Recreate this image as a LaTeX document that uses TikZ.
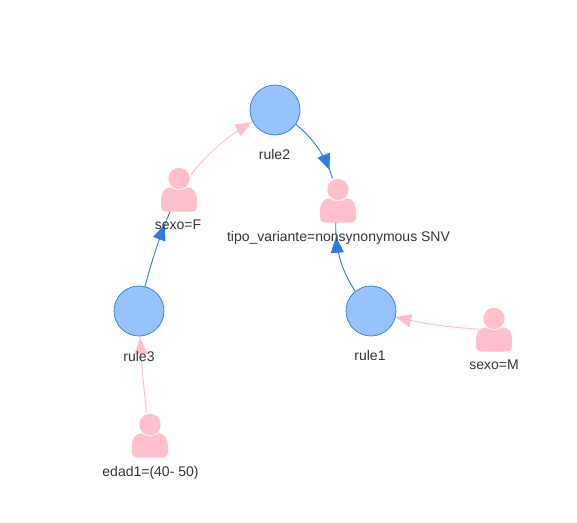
\documentclass[tikz,border=0pt]{standalone}
\usepackage{fontspec}
\setmainfont{Liberation Sans}
\usetikzlibrary{arrows.meta,decorations.markings}
\definecolor{nodefill}{HTML}{97C2FC}
\definecolor{nodeedge}{HTML}{2B7CE9}
\definecolor{pinkitem}{HTML}{FFC0CB}
\definecolor{labelgrey}{HTML}{343434}
\tikzset{
  x=1pt,y=-1pt,
  rulenode/.style={circle,draw=nodeedge,fill=nodefill,line width=0.7pt,minimum size=50pt,inner sep=0pt},
  hub/.style={inner sep=0pt,minimum size=0pt,outer sep=0pt},
  lbl/.style={inner sep=0pt,text=labelgrey,font=\fontsize{14}{16}\selectfont,anchor=center},
  blueedge/.style={draw=nodeedge,line width=0.9pt},
  pinkedge/.style={draw=pinkitem,line width=0.9pt},
  bluetip/.style={postaction={decorate},decoration={markings,mark=at position #1 with {\arrow[nodeedge]{Triangle[length=16pt,width=13pt]}}}},
  pinktip/.style={postaction={decorate},decoration={markings,mark=at position #1 with {\arrow[pinkitem]{Triangle[length=16pt,width=13pt]}}}},
  person/.pic={
    \fill[white] (0,-11.5) circle[radius=12.4];
    \fill[pinkitem] (-8.5,-2.6) .. controls (-3.5,0.9) and (3.5,0.9) .. (8.5,-2.6)
      .. controls (15,-2.6) and (18,3) .. (18,10) -- (18,15.5)
      .. controls (18,19.5) and (16,21.5) .. (12,21.5) -- (-12,21.5)
      .. controls (-16,21.5) and (-18,19.5) .. (-18,15.5) -- (-18,10)
      .. controls (-18,3) and (-15,-2.6) .. (-8.5,-2.6) -- cycle;
    \fill[pinkitem] (0,-11.5) circle[radius=10.7];
  }
}
\begin{document}
\begin{tikzpicture}
\useasboundingbox (0,0) rectangle (577,522);
\fill[white] (0,0) rectangle (577,522);
\coordinate (p2) at (275,110);
\coordinate (p3) at (139,311);
\coordinate (p1) at (371,311);
\node[hub] (sexoF) at (179,190) {};
\node[hub] (tipo) at (338,201) {};
\node[hub] (sexoM) at (494,330) {};
\node[hub] (edad) at (150,436) {};
\node[hub] (c2) at (p2) {};
\node[hub] (c3) at (p3) {};
\node[hub] (c1) at (p1) {};
% edges
\draw[blueedge,bluetip=0.72] (c2) to[bend left=25] (tipo);
\draw[pinkedge,pinktip=0.79] (sexoF) to[bend left=14] (c2);
\draw[blueedge,bluetip=0.71] (c3) to[bend left=5] (sexoF);
\draw[blueedge,bluetip=0.70] (c1) to[bend left=26] (tipo);
\draw[pinkedge,pinktip=0.80] (sexoM) to[bend left=6] (c1);
\draw[pinkedge,pinktip=0.785] (edad) to[bend left=3] (c3);
% nodes
\node[rulenode] (rule2) at (p2) {};
\node[rulenode] (rule3) at (p3) {};
\node[rulenode] (rule1) at (p1) {};
\pic at (sexoF) {person};
\pic at (tipo) {person};
\pic at (sexoM) {person};
\pic at (edad) {person};
% labels
\node[lbl] (l2) at (274.5,154) {rule2};
\node[lbl] (l3) at (139,356) {rule3};
\node[lbl] (l1) at (370,355) {rule1};
\node[lbl] (lF) at (178,225) {sexo=F};
\node[lbl] (lT) at (338.5,238) {tipo\_variante=nonsynonymous SNV};
\node[lbl] (lM) at (494,365) {sexo=M};
\node[lbl] (lE) at (150.5,473) {edad1=(40- 50)};
\end{tikzpicture}
\end{document}
